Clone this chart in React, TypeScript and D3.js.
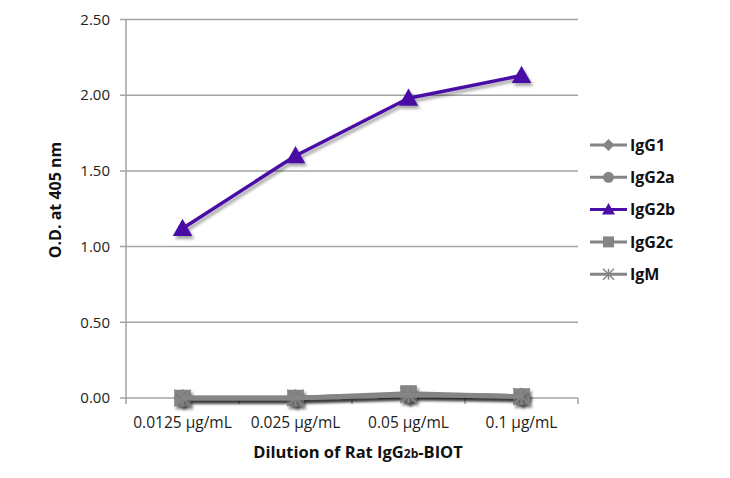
import React from "react";
import * as d3 from "d3";

const categories = ["0.0125 µg/mL", "0.025 µg/mL", "0.05 µg/mL", "0.1 µg/mL"];
const yTicks = [0, 0.5, 1.0, 1.5, 2.0, 2.5];
const seriesNames = ["IgG1", "IgG2a", "IgG2b", "IgG2c", "IgM"];
const igG1 = [0.0, 0.0, 0.02, 0.01];
const igG2a = [0.0, 0.0, 0.02, 0.01];
const igG2b = [1.12, 1.6, 1.98, 2.13];
const igG2c = [0.0, 0.0, 0.03, 0.01];
const igM = [0.0, 0.0, 0.02, 0.01];
const seriesValues = [igG1, igG2a, igG2b, igG2c, igM];
const seriesColors = ["#858585", "#858585", "#4a0fa6", "#858585", "#858585"];
const seriesMarkers = ["diamond", "circle", "triangle", "square", "star"];

const W = 730, H = 478;
const left = 126, right = 578, top = 19.5, bottom = 398;
const font = "'Open Sans', 'Noto Sans', sans-serif";

function Marker({ type, x, y, color, size }: any) {
  if (type === "circle") return <circle cx={x} cy={y} r={size * 0.55} fill={color} />;
  if (type === "square") return <rect x={x - size * 0.55} y={y - size * 0.55} width={size * 1.1} height={size * 1.1} fill={color} />;
  if (type === "diamond") return <path d={`M${x},${y - size * 0.6}L${x + size * 0.6},${y}L${x},${y + size * 0.6}L${x - size * 0.6},${y}Z`} fill={color} />;
  if (type === "triangle") return <path d={`M${x},${y - size * 0.65}L${x + size * 0.65},${y + size * 0.5}L${x - size * 0.65},${y + size * 0.5}Z`} fill={color} />;
  const s = size * 0.55;
  return (
    <g stroke={color} strokeWidth={1.5}>
      <line x1={x - s} y1={y - s} x2={x + s} y2={y + s} />
      <line x1={x - s} y1={y + s} x2={x + s} y2={y - s} />
      <line x1={x} y1={y - s} x2={x} y2={y + s} />
    </g>
  );
}

export default function App() {
  const x = d3.scaleBand<string>().domain(categories).range([left, right]);
  const y = d3.scaleLinear().domain([0, 2.5]).range([bottom, top]);
  const line = d3.line<number>().x((_, i) => (x(categories[i]) as number) + x.bandwidth() / 2).y((d) => y(d));
  const order = [0, 1, 3, 4, 2];
  const legendX = 590, legendY0 = 145, legendStep = 32.3;
  return (
    <svg width={W} height={H} style={{ position: "absolute", left: 0, top: 0, background: "#fff" }}>
      <defs>
        <filter id="sh" x="-20%" y="-20%" width="140%" height="160%">
          <feGaussianBlur in="SourceAlpha" stdDeviation="1.5" />
          <feOffset dx="2" dy="2.5" result="o" />
          <feComponentTransfer><feFuncA type="linear" slope="0.35" /></feComponentTransfer>
          <feMerge><feMergeNode /><feMergeNode in="SourceGraphic" /></feMerge>
        </filter>
      </defs>
      {yTicks.map((t) => (
        <g key={t}>
          <line x1={left - 6} x2={right} y1={y(t)} y2={y(t)} stroke="#a3a3a3" strokeWidth={1.5} />
          <text x={110} y={y(t)} dy="0.35em" textAnchor="end" fontFamily={font} fontSize={15} fill="#222">{t.toFixed(2)}</text>
        </g>
      ))}
      <line x1={left} x2={left} y1={top} y2={bottom + 6} stroke="#a3a3a3" strokeWidth={1.5} />
      {categories.map((c, i) => (
        <g key={c}>
          <line x1={(x(c) as number) + x.bandwidth()} x2={(x(c) as number) + x.bandwidth()} y1={bottom} y2={bottom + 6} stroke="#a3a3a3" strokeWidth={1.5} />
          <text x={(x(c) as number) + x.bandwidth() / 2} y={428} textAnchor="middle" fontFamily={font} fontSize={15.5} fill="#222">{c}</text>
        </g>
      ))}
      {order.map((si) => (
        <g key={si} filter="url(#sh)">
          <path d={line(seriesValues[si]) || ""} fill="none" stroke={seriesColors[si]} strokeWidth={si === 2 ? 3.5 : 4.5} strokeLinejoin="round" />
          {seriesValues[si].map((v, i) => (
            <Marker key={i} type={seriesMarkers[si]} x={(x(categories[i]) as number) + x.bandwidth() / 2} y={y(v)} color={seriesColors[si]} size={15} />
          ))}
        </g>
      ))}
      {seriesNames.map((n, i) => {
        const ly = legendY0 + i * legendStep;
        return (
          <g key={n}>
            <line x1={legendX} x2={legendX + 37} y1={ly} y2={ly} stroke={seriesColors[i]} strokeWidth={3} />
            <Marker type={seriesMarkers[i]} x={legendX + 18.5} y={ly} color={seriesColors[i]} size={10} />
            <text x={legendX + 40} y={ly} dy="0.35em" fontFamily={font} fontWeight={700} fontSize={16} fill="#111">{n}</text>
          </g>
        );
      })}
      <text x={358} y={458} textAnchor="middle" fontFamily={font} fontWeight={700} fontSize={16.5} fill="#111">
        Dilution of Rat IgG<tspan fontSize={12}>2b</tspan>-BIOT
      </text>
      <text transform={`translate(61,200) rotate(-90)`} textAnchor="middle" fontFamily={font} fontWeight={700} fontSize={16} fill="#111">O.D. at 405 nm</text>
    </svg>
  );
}
